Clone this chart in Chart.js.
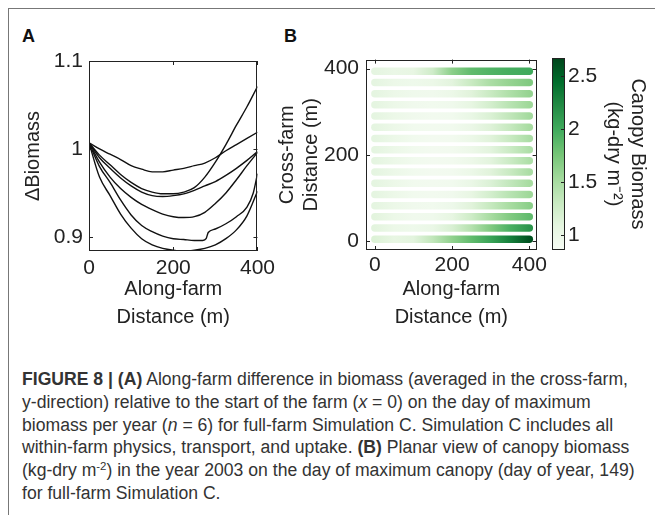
<!DOCTYPE html>
<html lang="en">
<head>
<meta charset="UTF-8">
<title>Figure 8 - biomass along the farm</title>
<script src="https://cdn.jsdelivr.net/npm/chart.js"></script>
<style>
  body {
    margin: 0;
    width: 655px;
    height: 515px;
    overflow: hidden;
    background: #fff;
    position: relative;
    font-family: "Liberation Sans", Arial, sans-serif;
  }
  .frame {
    position: absolute;
    left: 8px; top: 8px; right: 0; bottom: 0;
    border-top: 1px solid #777;
    border-left: 1px solid #777;
  }
  .panel-label {
    position: absolute;
    font-weight: bold;
    font-size: 18px;
    color: #111;
  }
  canvas { position: absolute; }
  .caption {
    position: absolute;
    left: 22px;
    top: 368px;
    font-size: 17.6px;
    line-height: 22.8px;
    color: #333;
    white-space: nowrap;
  }
  .caption sup { font-size: 0.65em; line-height: 0; vertical-align: 0.5em; }
</style>
</head>
<body>
<div class="frame"></div>
<div class="panel-label" style="left:22px; top:26px;">A</div>
<div class="panel-label" style="left:284px; top:26px;">B</div>

<canvas id="chartA" width="280" height="300" style="left:0; top:40px;"></canvas>
<canvas id="chartB" width="280" height="300" style="left:270px; top:40px;"></canvas>
<canvas id="colorbar" width="110" height="300" style="left:545px; top:40px;"></canvas>

<div class="caption">
<b>FIGURE 8 | (A)</b> Along-farm difference in biomass (averaged in the cross-farm,<br>
y-direction) relative to the start of the farm (<i>x</i> = 0) on the day of maximum<br>
biomass per year (<i>n</i> = 6) for full-farm Simulation C. Simulation C includes all<br>
within-farm physics, transport, and uptake. <b>(B)</b> Planar view of canopy biomass<br>
(kg-dry m<sup>-2</sup>) in the year 2003 on the day of maximum canopy (day of year, 149)<br>
for full-farm Simulation C.
</div>

<script>
// ---- panel A: delta biomass along the farm, one curve per year (n = 6)
var yearCurves = [
  [[0,1.007],[25,1.000],[50,0.994],[75,0.988],[100,0.981],[125,0.977],[150,0.974],[175,0.974],[200,0.976],[225,0.978],[250,0.981],[275,0.984],[300,0.990],[325,0.998],[350,1.005],[375,1.012],[400,1.019]],
  [[0,1.007],[25,0.993],[50,0.982],[75,0.971],[100,0.962],[125,0.955],[150,0.951],[175,0.949],[200,0.949],[225,0.951],[250,0.956],[275,0.968],[300,0.985],[325,1.005],[350,1.027],[375,1.048],[400,1.071]],
  [[0,1.007],[25,0.990],[50,0.978],[75,0.967],[100,0.958],[125,0.951],[150,0.947],[175,0.946],[200,0.947],[225,0.949],[250,0.953],[275,0.958],[300,0.963],[325,0.970],[350,0.978],[375,0.987],[400,0.997]],
  [[0,1.007],[25,0.985],[50,0.968],[75,0.955],[100,0.945],[125,0.937],[150,0.931],[175,0.926],[200,0.923],[225,0.922],[250,0.923],[275,0.928],[300,0.938],[325,0.950],[350,0.965],[375,0.981],[400,0.996]],
  [[0,1.007],[25,0.980],[50,0.962],[75,0.942],[100,0.925],[125,0.913],[150,0.906],[175,0.901],[200,0.898],[225,0.897],[250,0.896],[270,0.896],[278,0.898],[283,0.905],[300,0.909],[325,0.915],[350,0.923],[375,0.934],[390,0.950],[400,0.972]],
  [[0,1.007],[25,0.968],[50,0.947],[75,0.926],[100,0.910],[125,0.898],[150,0.891],[175,0.887],[200,0.885],[225,0.884],[250,0.885],[275,0.887],[300,0.891],[325,0.898],[350,0.908],[375,0.924],[400,0.952]]
];
var xTicksA = [0, 200, 400];
var yTicksA = [0.9, 1, 1.1];
var yTickLabelsA = ['0.9', '1', '1.1'];

// ---- panel B: canopy biomass, rows across the farm, sampled along the farm
var alongX = [0, 50, 100, 150, 200, 250, 300, 350, 400];
var rowY = [4, 30, 56, 82, 108, 134, 160, 186, 212, 238, 264, 290, 316, 342, 368, 394];
var canopyBiomass = [
  [1.15, 1.05, 1.10, 1.35, 1.62, 1.85, 2.05, 2.30, 2.60],
  [1.10, 1.00, 0.97, 1.02, 1.18, 1.42, 1.70, 1.95, 2.15],
  [1.10, 1.00, 0.95, 0.96, 1.06, 1.26, 1.50, 1.70, 1.85],
  [1.08, 1.00, 0.95, 0.93, 0.98, 1.12, 1.32, 1.50, 1.65],
  [1.08, 1.00, 0.94, 0.92, 0.95, 1.05, 1.22, 1.40, 1.55],
  [1.08, 1.00, 0.94, 0.92, 0.93, 1.02, 1.16, 1.34, 1.50],
  [1.08, 1.00, 0.94, 0.91, 0.92, 1.00, 1.12, 1.30, 1.48],
  [1.08, 1.00, 0.94, 0.91, 0.92, 0.99, 1.10, 1.28, 1.46],
  [1.08, 1.00, 0.94, 0.91, 0.92, 0.99, 1.10, 1.28, 1.46],
  [1.08, 1.00, 0.94, 0.91, 0.92, 1.00, 1.12, 1.30, 1.48],
  [1.08, 1.00, 0.94, 0.92, 0.93, 1.01, 1.14, 1.32, 1.50],
  [1.08, 1.00, 0.95, 0.92, 0.94, 1.03, 1.17, 1.35, 1.52],
  [1.08, 1.00, 0.95, 0.93, 0.96, 1.06, 1.22, 1.40, 1.55],
  [1.08, 1.00, 0.96, 0.95, 1.00, 1.12, 1.30, 1.46, 1.60],
  [1.08, 1.00, 0.97, 1.00, 1.10, 1.30, 1.48, 1.60, 1.70],
  [1.08, 1.02, 1.05, 1.25, 1.65, 1.85, 1.92, 1.97, 2.00]
];
var xTicksB = [0, 200, 400];
var yTicksB = [0, 200, 400];

// colour bar
var cbMin = 0.86, cbMax = 2.67;
var cbTicks = [1, 1.5, 2, 2.5];
var cbTickLabels = ['1', '1.5', '2', '2.5'];
var cmapValues = [0.86, 1.086, 1.313, 1.539, 1.765, 1.991, 2.218, 2.444, 2.67];
var cmapColors = ['#f7fcf5', '#e5f5e0', '#c7e9c0', '#a1d99b', '#74c476', '#41ab5d', '#238b45', '#006d2c', '#00441b'];

var ink = '#222';
var fontFamily = '"Liberation Sans", Arial, sans-serif';
var tickFont = { family: fontFamily, size: 21 };
var titleFont = { family: fontFamily, size: 20, lineHeight: 1.4 };
var sideTitleFont = { family: fontFamily, size: 20, lineHeight: 1.22 };

function hexToRgb(h) {
  return [parseInt(h.slice(1, 3), 16), parseInt(h.slice(3, 5), 16), parseInt(h.slice(5, 7), 16)];
}
function biomassColor(v) {
  if (v <= cmapValues[0]) return cmapColors[0];
  for (var i = 1; i < cmapValues.length; i++) {
    if (v <= cmapValues[i]) {
      var t = (v - cmapValues[i - 1]) / (cmapValues[i] - cmapValues[i - 1]);
      var a = hexToRgb(cmapColors[i - 1]), b = hexToRgb(cmapColors[i]);
      return 'rgb(' + a.map(function (c, k) { return Math.round(c + (b[k] - c) * t); }).join(',') + ')';
    }
  }
  return cmapColors[cmapColors.length - 1];
}

// box around the plot area with small inward ticks (matlab look)
var boxPlugin = {
  id: 'box',
  afterDatasetsDraw: function (chart, args, opts) {
    var ctx = chart.ctx, a = chart.chartArea, len = 4;
    ctx.save();
    ctx.strokeStyle = ink;
    ctx.lineWidth = 1;
    ctx.strokeRect(Math.round(a.left) + 0.5, Math.round(a.top) + 0.5,
      Math.round(a.right - a.left) - 1, Math.round(a.bottom - a.top) - 1);
    ctx.beginPath();
    if (opts.xTicks) {
      chart.scales.x.ticks.forEach(function (t) {
        var px = Math.round(chart.scales.x.getPixelForValue(t.value)) + 0.5;
        ctx.moveTo(px, a.bottom); ctx.lineTo(px, a.bottom - len);
        ctx.moveTo(px, a.top); ctx.lineTo(px, a.top + len);
      });
    }
    if (opts.yTicks) {
      chart.scales.y.ticks.forEach(function (t) {
        var py = Math.round(chart.scales.y.getPixelForValue(t.value)) + 0.5;
        if (!opts.rightOnly) { ctx.moveTo(a.left, py); ctx.lineTo(a.left + len, py); }
        ctx.moveTo(a.right, py); ctx.lineTo(a.right - len, py);
      });
    }
    ctx.stroke();
    ctx.restore();
  }
};

function fixedTicks(values) {
  return function (scale) { scale.ticks = values.map(function (v) { return { value: v }; }); };
}

// ---------- panel A
new Chart(document.getElementById('chartA'), {
  type: 'scatter',
  data: {
    datasets: yearCurves.map(function (c) {
      return {
        data: c.map(function (p) { return { x: p[0], y: p[1] }; }),
        showLine: true,
        borderColor: '#111',
        borderWidth: 1.4,
        pointRadius: 0,
        cubicInterpolationMode: 'monotone'
      };
    })
  },
  options: {
    responsive: false,
    animation: false,
    layout: { padding: { top: 21, right: 20, left: 0, bottom: 0 } },
    plugins: { legend: { display: false }, tooltip: { enabled: false }, box: { xTicks: true, yTicks: true } },
    scales: {
      x: {
        type: 'linear', min: 0, max: 400,
        afterBuildTicks: fixedTicks(xTicksA),
        afterFit: function (s) { s.height = 89; },
        grid: { display: false, drawTicks: false },
        border: { display: false },
        ticks: { color: ink, font: tickFont, padding: 5, maxRotation: 0, autoSkip: false },
        title: { display: true, text: ['Along-farm', 'Distance (m)'], color: ink, font: titleFont, padding: { bottom: 9 } }
      },
      y: {
        type: 'linear', min: 0.884, max: 1.1,
        afterBuildTicks: fixedTicks(yTicksA),
        afterFit: function (s) { s.width = 89; },
        grid: { display: false, drawTicks: false },
        border: { display: false },
        ticks: { color: ink, font: tickFont, padding: 6, autoSkip: false,
          callback: function (v, i) { return yTickLabelsA[i]; } },
        title: { display: true, text: '\u0394Biomass', color: ink, font: titleFont, padding: { top: 19 } }
      }
    }
  },
  plugins: [boxPlugin]
});

// ---------- panel B
function rowGradient(chart, r) {
  var xs = chart.scales.x;
  var x0 = xs.getPixelForValue(alongX[0]);
  var x1 = xs.getPixelForValue(alongX[alongX.length - 1]);
  var g = chart.ctx.createLinearGradient(x0, 0, x1, 0);
  alongX.forEach(function (x, i) {
    g.addColorStop((xs.getPixelForValue(x) - x0) / (x1 - x0), biomassColor(canopyBiomass[r][i]));
  });
  return g;
}

new Chart(document.getElementById('chartB'), {
  type: 'scatter',
  data: {
    datasets: rowY.map(function (y, r) {
      return {
        data: alongX.map(function (x) { return { x: x, y: y }; }),
        showLine: true,
        borderWidth: 7.5,
        borderCapStyle: 'round',
        pointRadius: 0,
        borderColor: function (ctx) {
          var c = ctx.chart;
          if (!c.chartArea) return '#eef7ea';
          return rowGradient(c, ctx.datasetIndex);
        }
      };
    })
  },
  options: {
    responsive: false,
    animation: false,
    layout: { padding: { top: 18, right: 4, left: 0, bottom: 0 } },
    plugins: { legend: { display: false }, tooltip: { enabled: false }, box: { xTicks: true, yTicks: true } },
    scales: {
      x: {
        type: 'linear', min: -23, max: 419,
        afterBuildTicks: fixedTicks(xTicksB),
        afterFit: function (s) { s.height = 90; },
        grid: { display: false, drawTicks: false },
        border: { display: false },
        ticks: { color: ink, font: tickFont, padding: 3, maxRotation: 0, autoSkip: false },
        title: { display: true, text: ['Along-farm', 'Distance (m)'], color: ink, font: titleFont, padding: { bottom: 9 } }
      },
      y: {
        type: 'linear', min: -21, max: 421,
        afterBuildTicks: fixedTicks(yTicksB),
        afterFit: function (s) { s.width = 96; },
        grid: { display: false, drawTicks: false },
        border: { display: false },
        ticks: { color: ink, font: tickFont, padding: 7, autoSkip: false },
        title: { display: true, text: ['Cross-farm', 'Distance (m)'], color: ink, font: sideTitleFont, padding: { top: 5 } }
      }
    }
  },
  plugins: [boxPlugin]
});

// ---------- colour bar
new Chart(document.getElementById('colorbar'), {
  type: 'bar',
  data: {
    labels: [''],
    datasets: [{
      data: [[cbMin, cbMax]],
      barPercentage: 1,
      categoryPercentage: 1,
      borderWidth: 0,
      backgroundColor: function (ctx) {
        var c = ctx.chart;
        if (!c.chartArea) return '#a1d99b';
        var ys = c.scales.y;
        var y0 = ys.getPixelForValue(cbMin), y1 = ys.getPixelForValue(cbMax);
        var g = c.ctx.createLinearGradient(0, y0, 0, y1);
        cmapValues.forEach(function (v, i) {
          g.addColorStop((ys.getPixelForValue(v) - y0) / (y1 - y0), cmapColors[i]);
        });
        return g;
      }
    }]
  },
  options: {
    responsive: false,
    animation: false,
    layout: { padding: { top: 18, right: 0, left: 7, bottom: 90 } },
    plugins: { legend: { display: false }, tooltip: { enabled: false }, box: { xTicks: false, yTicks: true, rightOnly: true } },
    scales: {
      x: { display: false },
      y: {
        position: 'right',
        min: cbMin, max: cbMax,
        afterBuildTicks: fixedTicks(cbTicks),
        afterFit: function (s) { s.width = 90; },
        grid: { display: false, drawTicks: false },
        border: { display: false },
        ticks: { color: ink, font: tickFont, padding: 3, autoSkip: false,
          callback: function (v, i) { return cbTickLabels[i]; } },
        title: { display: true, text: ['Canopy Biomass', '(kg-dry m\u207B\u00B2)'], color: ink, font: sideTitleFont, padding: { top: 5 } }
      }
    }
  },
  plugins: [boxPlugin]
});
</script>
</body>
</html>
